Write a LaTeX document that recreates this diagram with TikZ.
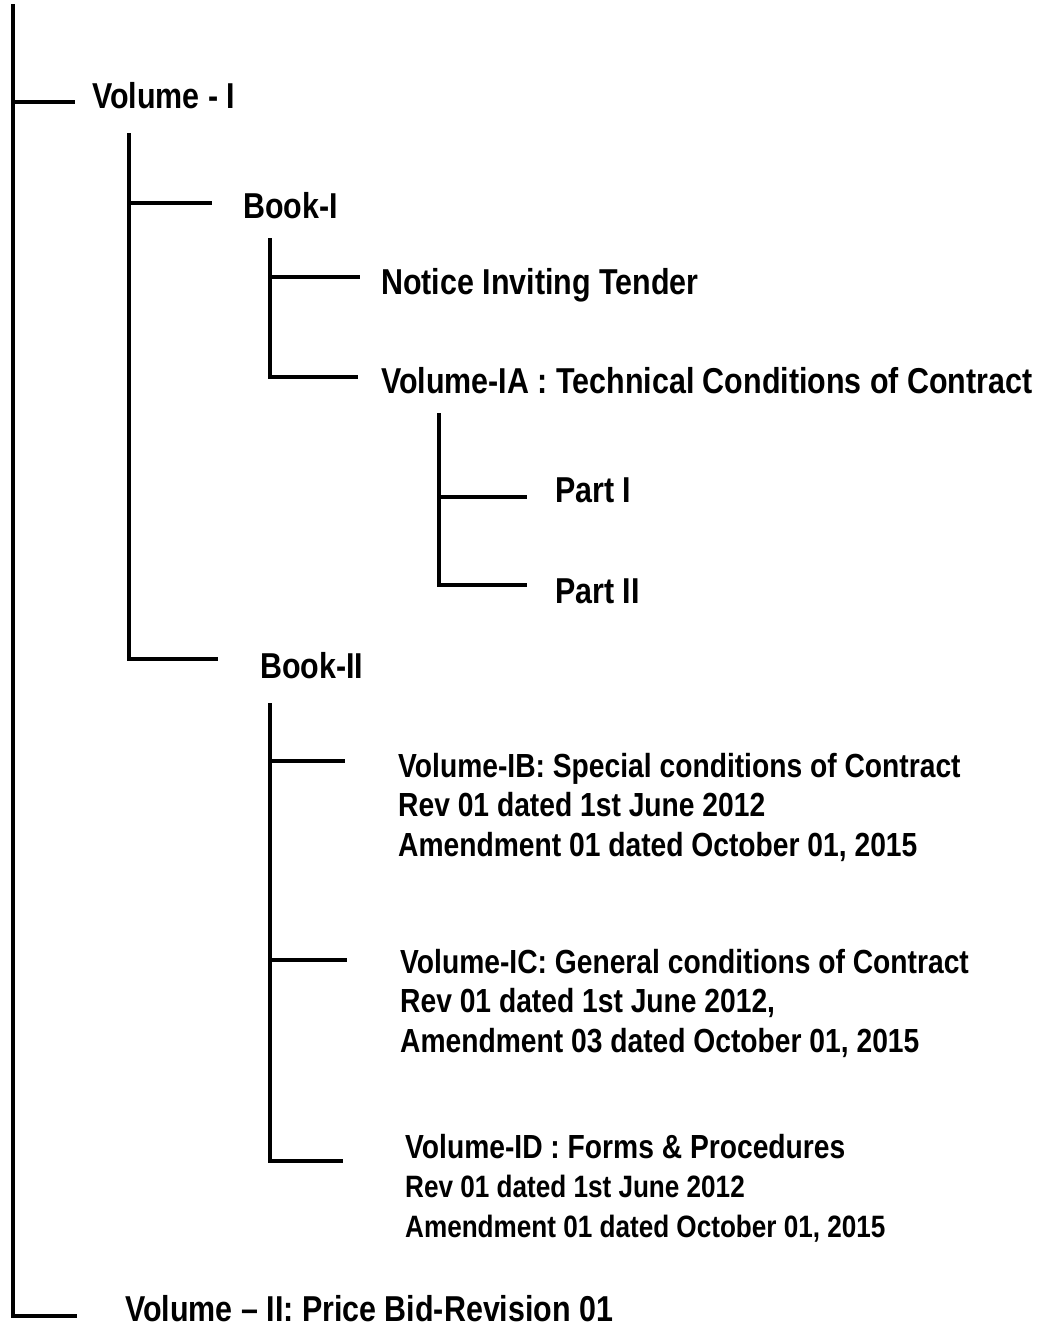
\documentclass[tikz,border=0pt]{standalone}
\usepackage{fontspec}
\newfontfamily\narrowfont{Liberation Sans}[FakeStretch=0.845, Ligatures=TeX]
\tikzset{
  branch/.style={line width=3.5pt},
  label/.style={anchor=base west, inner sep=0pt, font=\narrowfont\bfseries\fontsize{36}{40}\selectfont},
  sublabel/.style={anchor=base west, inner sep=0pt, align=left, font=\narrowfont\bfseries\fontsize{33.4}{39.5}\selectfont}
}
\begin{document}
\begin{tikzpicture}[x=1pt, y=-1pt]
  \useasboundingbox (0,0) rectangle (1046,1328);
  % TEXTOS
  \node[label] (vol1) at (92,108) {Volume - I};
  \node[label] (book1) at (243,218) {Book-I};
  \node[label] (nit) at (381,294) {Notice Inviting Tender};
  \node[label] (volIA) at (381,393) {Volume-IA : Technical Conditions of Contract};
  \node[label] (part1) at (555,502) {Part I};
  \node[label] (part2) at (555,603) {Part II};
  \node[label] (book2) at (260,678) {Book-II};
  % (base = last line)
  \node[sublabel] (volIB) at (398,856) {Volume-IB: Special conditions of Contract\\
    Rev 01 dated 1st June 2012\\ Amendment 01 dated October 01, 2015};
  \node[sublabel] (volIC) at (400,1052) {Volume-IC: General conditions of Contract\\
    Rev 01 dated 1st June 2012,\\ Amendment 03 dated October 01, 2015};
  \node[sublabel] (volID) at (405,1237) {Volume-ID : Forms \& Procedures\\
    {\fontsize{30.9}{36.5}\selectfont Rev 01 dated 1st June 2012}\\
    {\fontsize{30.9}{36.5}\selectfont Amendment 01 dated October 01, 2015}};
  \node[label] (vol2) at (125,1321) {Volume \textendash{} II: Price Bid-Revision 01};
  % TRONCO
  \coordinate (aTop) at (13,4);
  \coordinate (vol1Tip) at (75,102);
  \coordinate (vol2Tip) at (77,1316);
  \draw[branch] (aTop) -- (aTop |- vol2Tip) -- (vol2Tip);
  \draw[branch] (aTop |- vol1Tip) -- (vol1Tip);
  % VOLUME I
  \coordinate (bTop) at (129,133);
  \coordinate (book1Tip) at (212,203);
  \coordinate (book2Tip) at (218,659);
  \draw[branch] (bTop) -- (bTop |- book2Tip) -- (book2Tip);
  \draw[branch] (bTop |- book1Tip) -- (book1Tip);
  % BOOK I
  \coordinate (cTop) at (270,238);
  \coordinate (nitTip) at (360,277);
  \coordinate (volIATip) at (358,377);
  \draw[branch] (cTop) -- (cTop |- volIATip) -- (volIATip);
  \draw[branch] (cTop |- nitTip) -- (nitTip);
  % VOLUME IA
  \coordinate (dTop) at (439,413);
  \coordinate (part1Tip) at (527,497);
  \coordinate (part2Tip) at (527,585);
  \draw[branch] (dTop) -- (dTop |- part2Tip) -- (part2Tip);
  \draw[branch] (dTop |- part1Tip) -- (part1Tip);
  % BOOK II
  \coordinate (eTop) at (270,703);
  \coordinate (volIBTip) at (345,761);
  \coordinate (volICTip) at (347,960);
  \coordinate (volIDTip) at (343,1161);
  \draw[branch] (eTop) -- (eTop |- volIDTip) -- (volIDTip);
  \draw[branch] (eTop |- volIBTip) -- (volIBTip);
  \draw[branch] (eTop |- volICTip) -- (volICTip);
\end{tikzpicture}
\end{document}
